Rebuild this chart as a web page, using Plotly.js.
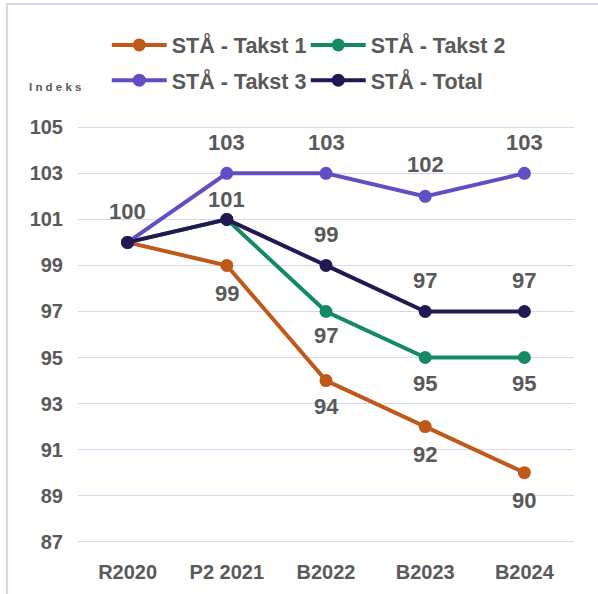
<!DOCTYPE html>
<html>
<head>
<meta charset="utf-8">
<script src="https://cdn.plot.ly/plotly-3.0.1.min.js"></script>
<style>html,body{margin:0;padding:0;background:#fff;}#chart{width:598px;height:594px;}</style>
</head>
<body>
<div id="chart"></div>
<script>
// ---- data ----
const categories = ['R2020', 'P2 2021', 'B2022', 'B2023', 'B2024'];
const seriesNames = ['STÅ - Takst 1', 'STÅ - Takst 2', 'STÅ - Takst 3', 'STÅ - Total'];
const takst1 = [100, 99, 94, 92, 90];
const takst2 = [100, 101, 97, 95, 95];
const takst3 = [100, 103, 103, 102, 103];
const total  = [100, 101, 99, 97, 97];
const yTicks = [87, 89, 91, 93, 95, 97, 99, 101, 103, 105];

// ---- label placement (pixel offsets, null = no label) ----
const labelShift1 = [null, 28, 26, 28, 28];
const labelShift2 = [null, null, 24, 26, 26];
const labelShift3 = [null, -31, -31, -32, -31];
const labelShiftT = [-31, -20, -31, -31, -31];
const legendIds = ['legend', 'legend', 'legend2', 'legend2'];

const colors = ['#C0581A', '#138A65', '#5E50C4', '#211A52'];
const gray = '#595959';
const fontFam = 'Liberation Sans, Arial, sans-serif';

const allSeries = [takst1, takst2, takst3, total];
const allShifts = [labelShift1, labelShift2, labelShift3, labelShiftT];

const traces = allSeries.map((vals, i) => ({
  type: 'scatter',
  mode: 'lines+markers',
  name: seriesNames[i],
  legend: legendIds[i],
  x: categories,
  y: vals,
  line: {color: colors[i], width: 4},
  marker: {color: colors[i], size: 13},
  cliponaxis: false
}));

const annotations = [];
allSeries.forEach((vals, i) => {
  vals.forEach((v, j) => {
    const s = allShifts[i][j];
    if (s === null) return;
    annotations.push({
      x: categories[j], y: v, xref: 'x', yref: 'y',
      text: String(v), showarrow: false,
      yshift: -s,
      font: {family: fontFam, size: 22, color: gray, weight: 'bold'}
    });
  });
});

annotations.push({
  xref: 'paper', yref: 'paper', x: -0.103, y: 1.091,
  xanchor: 'left', yanchor: 'middle',
  text: 'I n d e k s', showarrow: false,
  font: {family: fontFam, size: 11.5, color: gray, weight: 'bold'}
});

const legendBase = {
  orientation: 'h',
  x: 0.058, xanchor: 'left',
  yanchor: 'middle',
  entrywidth: 129, entrywidthmode: 'pixels',
  itemwidth: 55,
  font: {family: fontFam, size: 21.5, color: gray, weight: 'bold'},
  bgcolor: 'rgba(0,0,0,0)'
};

const layout = {
  width: 598, height: 594,
  margin: {l: 78, r: 24, t: 125, b: 50},
  paper_bgcolor: '#ffffff',
  plot_bgcolor: '#ffffff',
  showlegend: true,
  legend: Object.assign({}, legendBase, {y: 1.191}),
  legend2: Object.assign({}, legendBase, {y: 1.107}),
  xaxis: {
    type: 'category',
    range: [-0.5, 4.5],
    showgrid: false, zeroline: false, showline: false,
    ticks: '', ticklabelstandoff: 14,
    tickfont: {family: fontFam, size: 20, color: gray, weight: 'bold'},
    fixedrange: true
  },
  yaxis: {
    range: [86.9, 105.1],
    tickvals: yTicks,
    ticktext: yTicks.map(String),
    showgrid: true, gridcolor: '#D9D6F4', gridwidth: 1.5,
    zeroline: false, showline: false,
    ticks: '', ticklabelstandoff: 14,
    tickfont: {family: fontFam, size: 20, color: gray, weight: 'bold'},
    fixedrange: true
  },
  annotations: annotations,
  shapes: [{
    type: 'rect', xref: 'paper', yref: 'paper',
    x0: -0.143, x1: 1.3, y0: 1.289, y1: -0.4,
    line: {color: '#D6D3F3', width: 2},
    fillcolor: 'rgba(0,0,0,0)', layer: 'below'
  }]
};

Plotly.newPlot('chart', traces, layout, {displayModeBar: false, staticPlot: true});
</script>
</body>
</html>
